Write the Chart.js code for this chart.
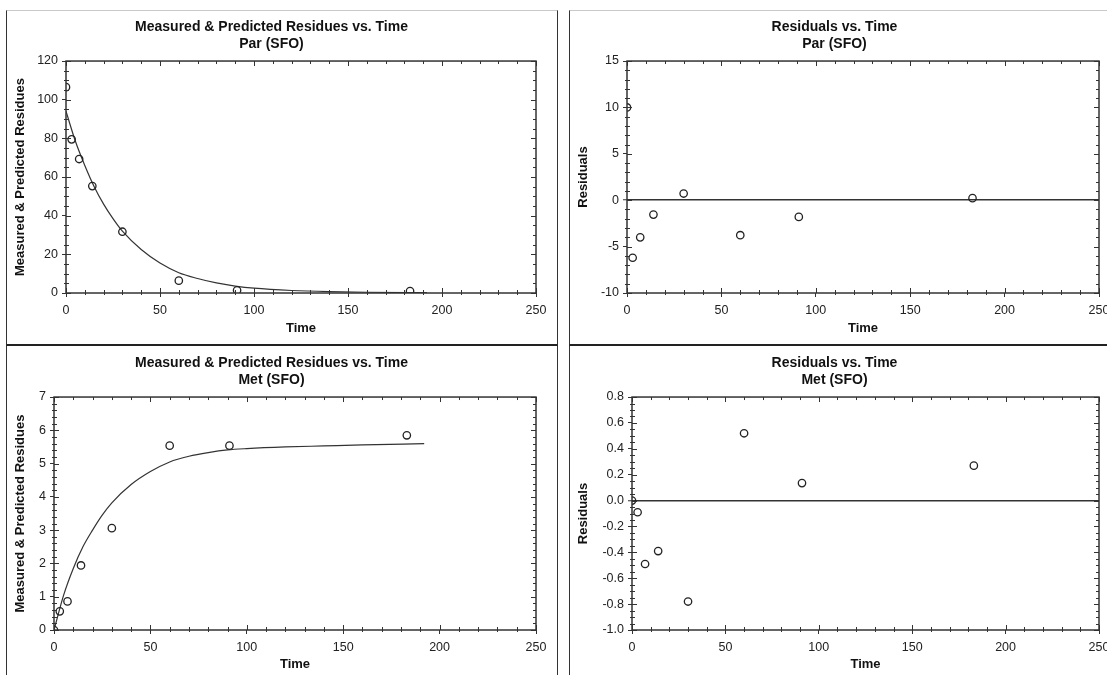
<!DOCTYPE html>
<html>
<head>
<meta charset="utf-8">
<script src="https://cdn.jsdelivr.net/npm/chart.js@4.4.1/dist/chart.umd.min.js"></script>
<style>
html, body { margin: 0; padding: 0; background: #fff; overflow: hidden; width: 1107px; height: 675px; }
.panel { position: absolute; box-sizing: border-box; border-left: 1px solid #333; border-right: 1px solid #333; }
.top { top: 10px; height: 336px; border-top: 1px solid #c8c8c8; border-bottom: 2px solid #222; }
.bottom { top: 346px; height: 340px; }
.left { left: 6px; width: 552px; }
.right { left: 569px; width: 552px; }
canvas { display: block; }
</style>
</head>
<body>
<div class="panel top left"><canvas id="parFit" width="550" height="333"></canvas></div>
<div class="panel top right"><canvas id="parRes" width="550" height="333"></canvas></div>
<div class="panel bottom left"><canvas id="metFit" width="550" height="329"></canvas></div>
<div class="panel bottom right"><canvas id="metRes" width="550" height="329"></canvas></div>
<script>
// sampling times (days)
const sampleTimes = [0, 3, 7, 14, 30, 60, 91, 183];
const fitTimes = [0, 5, 10, 15, 20, 25, 30, 40, 50, 60, 70, 80, 90, 100, 120, 140, 160, 192];

// parent
const parMeasured = [106.5, 79.5, 69.3, 55.3, 31.7, 6.4, 1.4, 1.0];
const parPredicted = [94, 78.5, 66, 55, 46, 38.5, 32, 22.5, 15.5, 10.5, 7.5, 5.2, 3.6, 2.5, 1.3, 0.7, 0.4, 0.2];
const parResiduals = [10, -6.2, -4.0, -1.55, 0.72, -3.77, -1.8, 0.22];

// metabolite
const metMeasured = [0, 0.56, 0.86, 1.94, 3.06, 5.54, 5.54, 5.85];
const metPredicted = [0, 1.05, 1.85, 2.5, 3.0, 3.45, 3.82, 4.37, 4.76, 5.05, 5.22, 5.33, 5.41, 5.45, 5.5, 5.53, 5.56, 5.6];
const metResiduals = [0, -0.09, -0.49, -0.39, -0.78, 0.52, 0.135, 0.27];

const timeRange = [0, 250, 50, 10];          // min, max, major, minor
const parRange = [0, 120, 20, 5];
const parResRange = [-10, 15, 5, 1];
const metRange = [0, 7, 1, 0.2];
const metResRange = [-1.0, 0.8, 0.2, 0.05];

Chart.defaults.font.family = '"Liberation Sans", Arial, sans-serif';
Chart.defaults.font.size = 12.5;
Chart.defaults.color = '#222';

const toPoints = (xs, ys) => xs.map((t, i) => ({ x: t, y: ys[i] }));

// box around the plot with small inward ticks, like the original software draws
const frameTicks = {
    id: 'frameTicks',
    afterDraw(chart, args, opts) {
        const { ctx, chartArea: a, scales: { x, y } } = chart;
        const marks = (r) => {
            const n = Math.round((r[1] - r[0]) / r[3]);
            const out = [];
            for (let i = 0; i <= n; i++) {
                const v = r[0] + i * r[3];
                const q = (v - r[0]) / r[2];
                out.push({ v, major: Math.abs(q - Math.round(q)) < 1e-6 });
            }
            return out;
        };
        ctx.save();
        ctx.strokeStyle = '#333';
        ctx.lineWidth = 1;
        ctx.beginPath();
        marks(opts.x).forEach(m => {
            const px = Math.round(x.getPixelForValue(m.v)) + 0.5;
            const len = m.major ? 5 : 3;
            ctx.moveTo(px, a.bottom + (m.major ? 0 : 2));
            ctx.lineTo(px, a.bottom - len);
            ctx.moveTo(px, a.top);
            ctx.lineTo(px, a.top + len);
        });
        marks(opts.y).forEach(m => {
            const py = Math.round(y.getPixelForValue(m.v)) + 0.5;
            const len = m.major ? 5 : 3;
            ctx.moveTo(a.left - (m.major ? 0 : 2), py);
            ctx.lineTo(a.left + len, py);
            ctx.moveTo(a.right, py);
            ctx.lineTo(a.right - len, py);
        });
        ctx.stroke();
        ctx.lineWidth = 1.5;
        ctx.strokeRect(a.left, a.top, a.width, a.height);
        ctx.restore();
    }
};

function makeChart(id, opt) {
    const datasets = [{
        data: toPoints(sampleTimes, opt.points),
        pointStyle: 'circle',
        pointRadius: 3.7,
        pointBorderWidth: 1.3,
        pointBorderColor: '#222',
        pointBackgroundColor: 'rgba(0,0,0,0)',
        showLine: false,
        clip: 0
    }];
    if (opt.curve) {
        datasets.push({
            data: toPoints(fitTimes, opt.curve),
            showLine: true,
            pointRadius: 0,
            borderColor: '#333',
            borderWidth: 1.2,
            cubicInterpolationMode: 'monotone',
            clip: 0
        });
    }
    const zero = opt.zeroLine;
    new Chart(document.getElementById(id), {
        type: 'scatter',
        data: { datasets },
        plugins: [frameTicks],
        options: {
            responsive: false,
            animation: false,
            layout: { padding: { left: 0, right: 21, top: 0, bottom: 0 } },
            plugins: {
                legend: { display: false },
                tooltip: { enabled: false },
                title: {
                    display: true,
                    text: opt.title,
                    color: '#111',
                    font: { size: 14, weight: 'bold', lineHeight: 1.18 },
                    padding: { top: opt.titleTop, bottom: opt.plotTop - opt.titleTop - 33 }
                },
                frameTicks: { x: timeRange, y: opt.yRange }
            },
            scales: {
                x: {
                    type: 'linear',
                    min: timeRange[0],
                    max: timeRange[1],
                    border: { display: false },
                    grid: { drawOnChartArea: false, tickLength: 4, tickColor: '#333', tickWidth: 1 },
                    ticks: { stepSize: timeRange[2], padding: 6, maxRotation: 0, color: '#222' },
                    title: {
                        display: true, text: 'Time', color: '#111',
                        font: { size: 13, weight: 'bold' },
                        padding: { top: 0, bottom: opt.xTitleBottom }
                    },
                    afterFit: s => { s.height = opt.xHeight; s.paddingLeft = 0; s.paddingRight = 0; }
                },
                y: {
                    type: 'linear',
                    min: opt.yRange[0],
                    max: opt.yRange[1],
                    border: { display: false },
                    grid: {
                        drawOnChartArea: !!zero,
                        color: c => (zero && Math.abs(c.tick.value) < 1e-9) ? '#333' : 'rgba(0,0,0,0)',
                        lineWidth: c => (zero && Math.abs(c.tick.value) < 1e-9) ? 1.5 : 1,
                        tickLength: 4, tickColor: '#333', tickWidth: 1
                    },
                    ticks: {
                        stepSize: opt.yRange[2], padding: 4, color: '#222',
                        callback: opt.yFormat || (v => v)
                    },
                    title: {
                        display: true, text: opt.yTitle, color: '#111',
                        font: { size: 13, weight: 'bold' },
                        padding: { top: 6, bottom: 0 }
                    },
                    afterFit: s => { s.width = opt.yWidth; s.paddingTop = 0; s.paddingBottom = 0; }
                }
            }
        }
    });
}

makeChart('parFit', {
    title: ['Measured & Predicted Residues vs. Time', 'Par (SFO)'],
    points: parMeasured, curve: parPredicted, yRange: parRange,
    yTitle: 'Measured & Predicted Residues', yWidth: 59,
    titleTop: 8, plotTop: 50, xHeight: 51, xTitleBottom: 8
});
makeChart('parRes', {
    title: ['Residuals vs. Time', 'Par (SFO)'],
    points: parResiduals, yRange: parResRange, zeroLine: true,
    yTitle: 'Residuals', yWidth: 57,
    titleTop: 8, plotTop: 50, xHeight: 51, xTitleBottom: 8
});
makeChart('metFit', {
    title: ['Measured & Predicted Residues vs. Time', 'Met (SFO)'],
    points: metMeasured, curve: metPredicted, yRange: metRange,
    yTitle: 'Measured & Predicted Residues', yWidth: 47,
    titleTop: 9, plotTop: 51, xHeight: 45, xTitleBottom: 3
});
makeChart('metRes', {
    title: ['Residuals vs. Time', 'Met (SFO)'],
    points: metResiduals, yRange: metResRange, zeroLine: true,
    yTitle: 'Residuals', yWidth: 62,
    yFormat: v => Number(v).toFixed(1),
    titleTop: 9, plotTop: 51, xHeight: 45, xTitleBottom: 3
});
</script>
</body>
</html>
